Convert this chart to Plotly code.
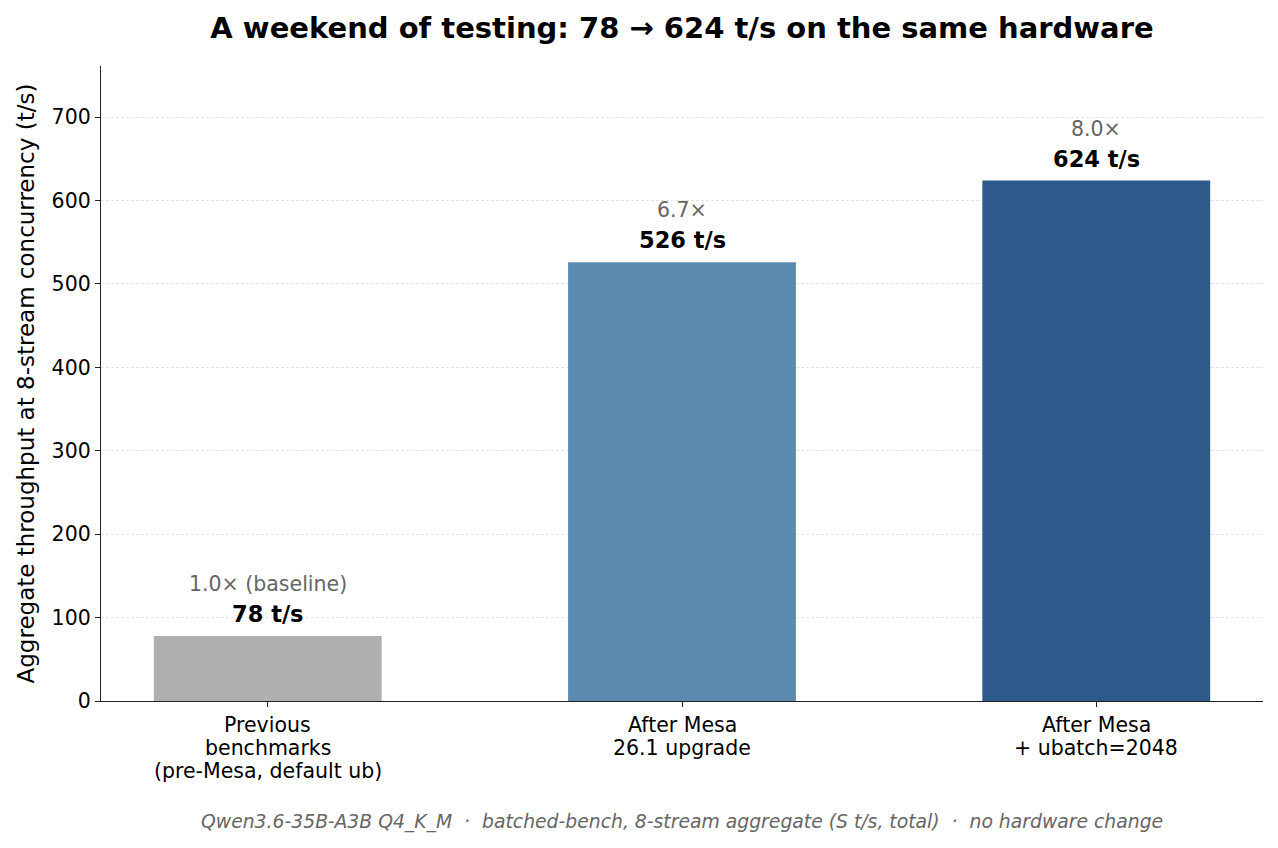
import plotly.graph_objects as go

categories = ["Previous<br>benchmarks<br>(pre-Mesa, default ub)",
              "After Mesa<br>26.1 upgrade",
              "After Mesa<br>+ ubatch=2048"]
throughput = [78, 526, 624]
value_labels = ["78 t/s", "526 t/s", "624 t/s"]
speedup_labels = ["1.0× (baseline)", "6.7×", "8.0×"]
bar_colors = ["#b0b0b0", "#5b8ab0", "#2d5a8a"]
yticks = [0, 100, 200, 300, 400, 500, 600, 700]

FONT = "DejaVu Sans"
xidx = list(range(len(categories)))
L, R, T, B = 101, 15, 66, 147
plot_w = 1278 - L - R

fig = go.Figure()
fig.add_trace(go.Bar(x=xidx, y=throughput, width=0.55,
                     marker=dict(color=bar_colors, line=dict(width=0)),
                     hoverinfo="skip"))

for i, (v, vl, sl) in enumerate(zip(throughput, value_labels, speedup_labels)):
    fig.add_annotation(x=i, y=v, text=f"<b>{vl}</b>", showarrow=False,
                       yanchor="middle", yshift=22,
                       font=dict(family=FONT, size=22.5, color="black"))
    fig.add_annotation(x=i, y=v, text=sl, showarrow=False,
                       yanchor="middle", yshift=52,
                       font=dict(family=FONT, size=20.5, color="#666666"))

# category labels: one annotation per line for tighter (matplotlib-like) line spacing
for i, cat in enumerate(categories):
    for j, line in enumerate(cat.split("<br>")):
        fig.add_annotation(x=i, y=0, yref="y", text=line, showarrow=False,
                           xanchor="center", yanchor="middle", yshift=-(24 + 23 * j),
                           font=dict(family=FONT, size=20.5, color="black"))

fig.add_annotation(xref="paper", yref="paper", x=0.5, y=-0.19,
                   text="Qwen3.6-35B-A3B Q4_K_M  ·  batched-bench, 8-stream aggregate (S t/s, total)  ·  no hardware change",
                   showarrow=False, yanchor="middle",
                   font=dict(family=FONT, size=18.8, color="#666666", style="italic"))

# y-axis title as rotated annotation for precise placement
fig.add_annotation(xref="paper", yref="paper", x=(25 - L) / plot_w, y=0.5,
                   text="Aggregate throughput at 8-stream concurrency (t/s)",
                   textangle=-90, showarrow=False, xanchor="center", yanchor="middle",
                   font=dict(family=FONT, size=23, color="black"))

fig.update_layout(
    width=1278, height=848,
    margin=dict(l=L, r=R, t=T, b=B),
    paper_bgcolor="white", plot_bgcolor="white",
    showlegend=False,
    font=dict(family=FONT, color="black"),
    title=dict(text="<b>A weekend of testing: 78 → 624 t/s on the same hardware</b>",
               x=(101 + 1263) / 2 / 1278, xanchor="center",
               y=1 - 28 / 848, yanchor="middle",
               font=dict(family=FONT, size=29, color="black")),
    xaxis=dict(tickmode="array", tickvals=xidx, showticklabels=False,
               range=[-0.4025, 2.4025], showline=True, linecolor="#222222",
               linewidth=1.3, ticks="outside", ticklen=5, tickcolor="#222222",
               showgrid=False, zeroline=False),
    yaxis=dict(range=[0, 624 * 1.22], tickmode="array", tickvals=yticks,
               showline=True, linecolor="#222222", linewidth=1.3,
               ticks="outside", ticklen=5, tickcolor="#222222",
               tickfont=dict(family=FONT, size=20.5, color="black"),
               showgrid=True, gridcolor="#e3e3e3", griddash="3px,2px", gridwidth=0.8,
               zeroline=False),
)

fig.write_html("out.html")
